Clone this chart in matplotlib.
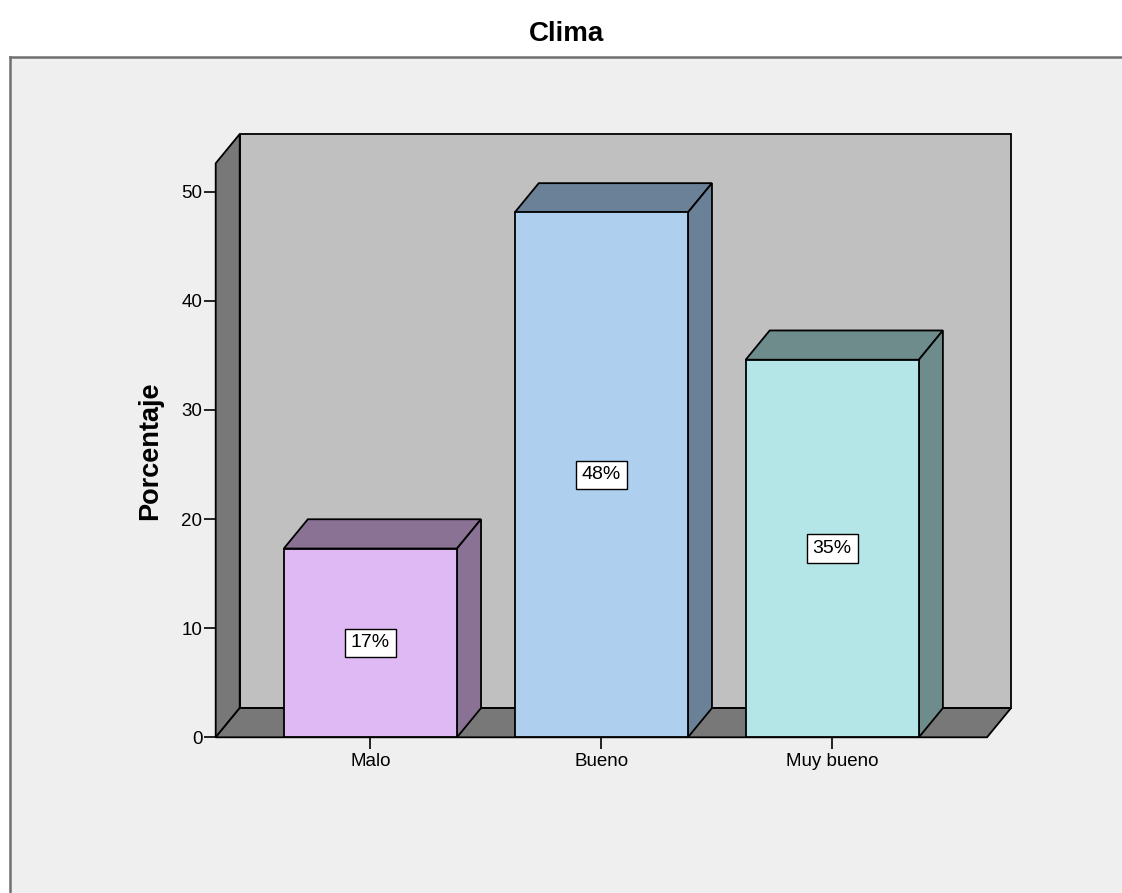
import matplotlib.pyplot as plt
from matplotlib.patches import Polygon, Rectangle
from matplotlib.lines import Line2D

plt.rcParams['font.family'] = ['Liberation Sans', 'DejaVu Sans']

# === Data ===
categories = ["Malo", "Bueno", "Muy bueno"]
percentages = [17.3, 48.1, 34.6]
front_colors = ["#dfb9f3", "#aecfee", "#b4e6e7"]
shade_colors = ["#8a7294", "#6b8197", "#6f8c8d"]
yticks = [0, 10, 20, 30, 40, 50]

# === Figure and frame ===
fig = plt.figure(figsize=(11.22, 8.93), dpi=100)
fig.patch.set_facecolor("white")

x0 = 10 / 1122
ytop = 1 - 57 / 893
fig.add_artist(Rectangle((x0, 0), 1 - x0, ytop, transform=fig.transFigure,
                         facecolor="#efefef", edgecolor="none", zorder=0))
fig.add_artist(Line2D([x0, 1], [ytop, ytop], transform=fig.transFigure,
                      color="#707070", lw=1.8))
fig.add_artist(Line2D([x0, x0], [0, ytop], transform=fig.transFigure,
                      color="#707070", lw=1.8))

fig.text(0.505, 1 - 34 / 893, "Clima", ha="center", va="center",
         fontsize=20, fontweight="bold")

ax = fig.add_axes([215.7 / 1122, (893 - 737.3) / 893,
                   (987 - 215.7) / 1122, (737.3 - 163.3) / 893])
ax.set_facecolor("none")

xl, xr = -0.67, 2.67
top = 52.6
dx, dy = 0.104, 2.68   # depth offset of the 3D box
ax.set_xlim(xl, xr)
ax.set_ylim(0, top)

edge = dict(edgecolor="black", linewidth=1.3, clip_on=False, joinstyle="miter")

# back wall, left wall and floor
ax.add_patch(Polygon([(xl + dx, dy), (xr + dx, dy), (xr + dx, top + dy), (xl + dx, top + dy)],
                     facecolor="#c0c0c0", zorder=1, **edge))
ax.add_patch(Polygon([(xl, 0), (xl + dx, dy), (xl + dx, top + dy), (xl, top)],
                     facecolor="#787878", zorder=1, **edge))
ax.add_patch(Polygon([(xl, 0), (xr, 0), (xr + dx, dy), (xl + dx, dy)],
                     facecolor="#787878", zorder=1, **edge))

# bars
width = 0.75
xs = range(len(categories))
bars = ax.bar(xs, percentages, width=width, color=front_colors,
              edgecolor="black", linewidth=1.3, zorder=3)
for x, v, sc in zip(xs, percentages, shade_colors):
    l, r = x - width / 2, x + width / 2
    ax.add_patch(Polygon([(l, v), (r, v), (r + dx, v + dy), (l + dx, v + dy)],
                         facecolor=sc, zorder=2, **edge))
    ax.add_patch(Polygon([(r, 0), (r + dx, dy), (r + dx, v + dy), (r, v)],
                         facecolor=sc, zorder=2, **edge))
    ax.text(x, v / 2, f"{v:.0f}%", ha="center", va="center", fontsize=14, zorder=4,
            bbox=dict(boxstyle="square,pad=0.3", facecolor="white",
                      edgecolor="black", linewidth=1))

for s in ax.spines.values():
    s.set_visible(False)

ax.set_xticks(list(xs))
ax.set_xticklabels(categories)
ax.set_yticks(yticks)
ax.tick_params(axis="both", direction="out", length=8.6, width=1.2,
               labelsize=13.5, colors="black")
ax.tick_params(axis="y", pad=1)
ax.tick_params(axis="x", pad=3)
ax.set_ylabel("Porcentaje", fontsize=19.5, fontweight="bold", labelpad=13)

fig.savefig("out.png", dpi=100)
